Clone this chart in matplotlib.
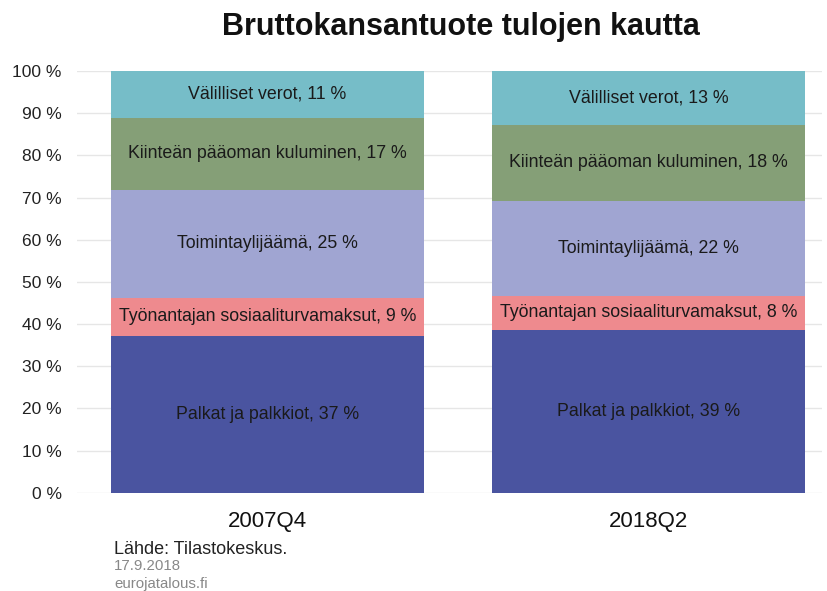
import matplotlib
matplotlib.use("Agg")
import matplotlib.pyplot as plt
import numpy as np

plt.rcParams['font.family'] = ['Liberation Sans', 'DejaVu Sans']

categories = ["2007Q4", "2018Q2"]
series_names = ["Palkat ja palkkiot", "Työnantajan sosiaaliturvamaksut",
                "Toimintaylijäämä", "Kiinteän pääoman kuluminen", "Välilliset verot"]
palkat = [37.2, 38.6]
tyonantajan = [9.0, 8.1]
toiminta = [25.6, 22.5]
kiintea = [17.1, 18.0]
valilliset = [11.1, 12.8]
label_values = [[37, 39], [9, 8], [25, 22], [17, 18], [11, 13]]
yticks = [0, 10, 20, 30, 40, 50, 60, 70, 80, 90, 100]

colors = ["#4a54a0", "#ee8a8e", "#a0a5d2", "#859f77", "#76bdc8"]

fig = plt.figure(figsize=(8.27, 5.91), dpi=100)
ax = fig.add_axes([0.093, 0.166, 0.901, 0.714])

series = [palkat, tyonantajan, toiminta, kiintea, valilliset]
x = np.arange(len(categories))
bottom = np.zeros(len(categories))
width = 0.82
for s, name, col, labs in zip(series, series_names, colors, label_values):
    vals = np.array(s)
    ax.bar(x, vals, width, bottom=bottom, color=col, zorder=2, linewidth=0)
    for i in range(len(x)):
        ax.text(x[i], bottom[i] + vals[i] / 2, f"{name}, {labs[i]} %",
                ha='center', va='center', fontsize=12.8, color="#1a1a1a", zorder=3)
    bottom += vals

ax.set_ylim(0, 100)
ax.set_xlim(-0.5, 1.455)
ax.set_yticks(yticks)
ax.set_yticklabels([f"{t} %" for t in yticks], fontsize=12.5, color="#222222")
ax.set_xticks(x)
ax.set_xticklabels(categories, fontsize=16, color="#111111")
ax.tick_params(axis='both', length=0)
ax.tick_params(axis='y', pad=11)
ax.tick_params(axis='x', pad=13)
ax.yaxis.grid(True, color="#e6e6e6", linewidth=1, zorder=0)
for sp in ax.spines.values():
    sp.set_visible(False)

fig.text(0.557, 0.955, "Bruttokansantuote tulojen kautta", ha='center', va='center',
         fontsize=22, fontweight='bold', color="#111111")
fig.text(0.138, 0.070, "Lähde: Tilastokeskus.", ha='left', va='center', fontsize=13, color="#222222")
fig.text(0.138, 0.042, "17.9.2018", ha='left', va='center', fontsize=10.8, color="#888888")
fig.text(0.138, 0.012, "eurojatalous.fi", ha='left', va='center', fontsize=10.8, color="#888888")

fig.savefig("out.png", dpi=100)
